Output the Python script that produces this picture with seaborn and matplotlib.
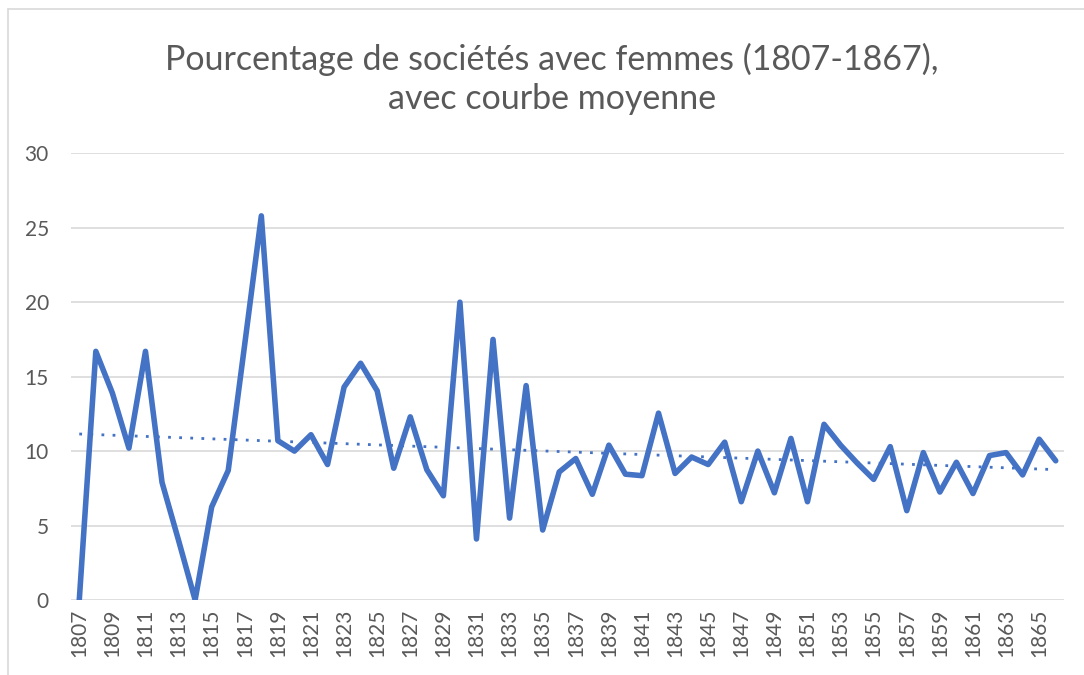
import numpy as np
import pandas as pd
import matplotlib.pyplot as plt
import seaborn as sns
from matplotlib.lines import Line2D

# years and share of companies with women (%)
years = list(range(1807, 1867))
pct = [0, 16.7, 13.9, 10.2, 16.7, 7.9, 4.0, 0, 6.25, 8.7,
       17.2, 25.8, 10.7, 10.0, 11.1, 9.1, 14.3, 15.9, 14.05, 8.85,
       12.3, 8.75, 7.0, 20.0, 4.1, 17.5, 5.5, 14.4, 4.7, 8.6,
       9.5, 7.1, 10.4, 8.45, 8.35, 12.55, 8.5, 9.6, 9.1, 10.6,
       6.6, 10.0, 7.2, 10.85, 6.6, 11.8, 10.4, 9.2, 8.1, 10.3,
       6.0, 9.9, 7.25, 9.25, 7.15, 9.7, 9.9, 8.4, 10.8, 9.35]
xticks = list(range(1807, 1866, 2))

title = "Pourcentage de sociétés avec femmes (1807-1867),\navec courbe moyenne"
blue = "#4472C4"
grey = "#595959"

df = pd.DataFrame({"annee": years, "pct": pct})

sns.set_style("white")
plt.rcParams['font.family'] = ['Lato', 'DejaVu Sans']

fig = plt.figure(figsize=(10.84, 6.75), dpi=100)
ax = fig.add_axes([71/1084, 1 - 600/675, (1064-71)/1084, (600-153.3)/675])

sns.lineplot(data=df, x="annee", y="pct", ax=ax, color=blue, lw=4,
             solid_joinstyle="round", solid_capstyle="round")
# linear trend ("courbe moyenne")
sns.regplot(data=df, x="annee", y="pct", ax=ax, scatter=False, ci=None,
            truncate=True, line_kws={"color": blue, "lw": 2, "ls": (0, (1, 3))})

ax.set_xlim(1806.5, 1866.5)
ax.set_ylim(0, 30)
ax.set_yticks([0, 5, 10, 15, 20, 25, 30])
ax.set_xticks(xticks)
ax.set_xticklabels([str(y) for y in xticks], rotation=90)
ax.tick_params(axis="both", length=0, labelsize=15, colors=grey)
ax.tick_params(axis="y", pad=16)
ax.tick_params(axis="x", pad=6)
ax.grid(axis="y", color="#d9d9d9", lw=1.2)
ax.set_axisbelow(True)
ax.set_xlabel("")
ax.set_ylabel("")
for s in ax.spines.values():
    s.set_visible(False)

fig.text(552/1084, 1 - 79/675, title, ha="center", va="center",
         fontsize=24.5, color=grey, linespacing=1.3)

# chart area border (top and left edges)
fig.add_artist(Line2D([7.5/1084, 7.5/1084], [0, 1 - 9/675], color="#d9d9d9", lw=1.2))
fig.add_artist(Line2D([7.5/1084, 1], [1 - 9/675, 1 - 9/675], color="#d9d9d9", lw=1.2))

fig.savefig("out.png", dpi=100, facecolor="white")
